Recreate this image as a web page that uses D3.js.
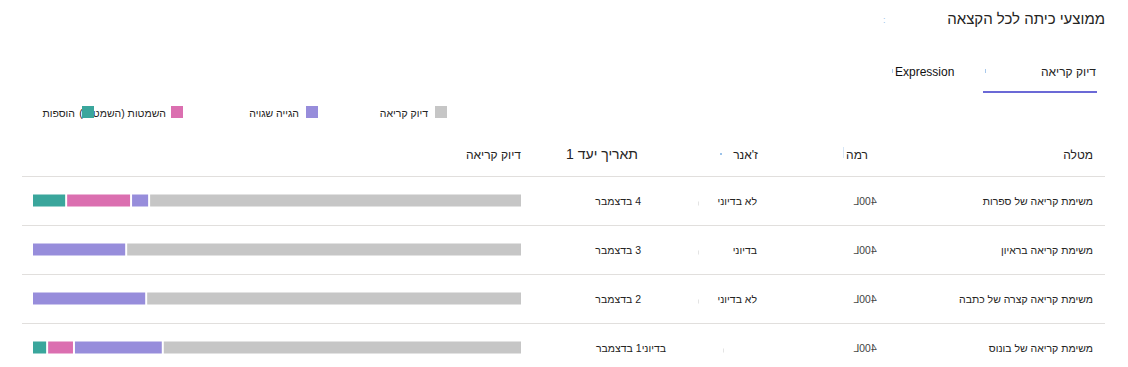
<!DOCTYPE html>
<html>
<head>
<meta charset="utf-8">
<script src="https://cdn.jsdelivr.net/npm/d3@7"></script>
<style>
  body { margin: 0; background: #fff; }
  svg text { font-family: "Liberation Sans", Arial, sans-serif; fill: #252423; }
</style>
</head>
<body>
<div id="chart"></div>
<script>
// data
var tasks = ["משימת קריאה של ספרות", "משימת קריאה בראיון", "משימת קריאה קצרה של כתבה", "משימת קריאה של בונוס"];
var levels = ["400L", "400L", "400L", "400L"];
var genres = ["לא בדיוני", "בדיוני", "לא בדיוני", ""];
var dates = ["4 בדצמבר", "3 בדצמבר", "2 בדצמבר", "בדיוני1 בדצמבר"];
var insertions = [7.0, 0, 0, 3.1];
var omissions = [13.3, 0, 0, 5.5];
var mispronunciations = [3.7, 19.3, 23.4, 18.2];
var accuracy = [76.0, 80.7, 76.6, 73.2];
var columns = ["מטלה", "רמה", "ז'אנר", "תאריך יעד 1", "דיוק קריאה"];
var legendLabels = ["דיוק קריאה", "הגייה שגויה", "השמטות (השמטות)", "הוספות"];

var keys = ["insertions", "omissions", "mispronunciations", "accuracy"];
var colors = {insertions: "#3aa69c", omissions: "#db6fb0", mispronunciations: "#978ddb", accuracy: "#c6c6c6"};

var rows = tasks.map(function(t, i) {
  return {task: t, level: levels[i], genre: genres[i], date: dates[i],
          insertions: insertions[i], omissions: omissions[i],
          mispronunciations: mispronunciations[i], accuracy: accuracy[i]};
});

var svg = d3.select("#chart").append("svg")
    .attr("width", 1128)
    .attr("height", 367);

// title
svg.append("text")
    .attr("x", 1105).attr("y", 24)
    .attr("direction", "rtl").attr("text-anchor", "start")
    .style("font-size", "15px")
    .text("ממוצעי כיתה לכל הקצאה");
svg.append("text")
    .attr("x", 883).attr("y", 23)
    .style("font-size", "9px").style("fill", "#9cc3ea")
    .text(":");

// tabs
svg.append("text")
    .attr("x", 1096).attr("y", 76)
    .attr("direction", "rtl").attr("text-anchor", "start")
    .style("font-size", "12px")
    .text("דיוק קריאה");
svg.append("text")
    .attr("x", 895).attr("y", 76)
    .style("font-size", "12px").style("fill", "#111")
    .text("Expression");
svg.append("rect")
    .attr("x", 983).attr("y", 91).attr("width", 114).attr("height", 2)
    .attr("fill", "#6b69d6");
// tiny focus marks next to the tabs
svg.selectAll(".tabmark")
    .data([892, 985])
    .enter().append("rect")
    .attr("class", "tabmark")
    .attr("x", function(d) { return d; }).attr("y", 69)
    .attr("width", 1).attr("height", 4)
    .attr("fill", "#a9c9ec");

// legend
var legendX = [447, 318, 183, 94];
var legend = svg.selectAll(".legend")
    .data(keys.slice().reverse())
    .enter().append("g")
    .attr("class", "legend")
    .attr("transform", function(d, i) { return "translate(" + legendX[i] + ",106)"; });
legend.append("text")
    .attr("x", function(d, i) { return i == 2 ? -17 : -19; }).attr("y", 11)
    .attr("direction", "rtl").attr("text-anchor", "start")
    .style("font-size", "10.5px")
    .text(function(d, i) { return legendLabels[i]; });
legend.append("rect")
    .attr("x", -12).attr("width", 12).attr("height", 12)
    .attr("fill", function(d) { return colors[d]; });

// columns
var colX = [1093, 868, 758, 638, 521];
svg.selectAll(".colhead")
    .data(columns)
    .enter().append("text")
    .attr("class", "colhead")
    .attr("x", function(d, i) { return colX[i]; })
    .attr("y", 159)
    .attr("direction", "rtl").attr("text-anchor", "start")
    .style("font-size", function(d, i) { return i == 3 ? "14px" : "12px"; })
    .text(function(d) { return d; });
svg.append("rect").attr("x", 843).attr("y", 147).attr("width", 1).attr("height", 11).attr("fill", "#d6e6f6");
svg.append("rect").attr("x", 720).attr("y", 153).attr("width", 2).attr("height", 2).attr("fill", "#9cc3ea");

// rows
var y = d3.scaleBand().domain(tasks).range([176, 372]);
var x = d3.scaleLinear().domain([0, 100]).range([33, 521]);
var gap = 2;

svg.selectAll(".sep")
    .data(tasks)
    .enter().append("line")
    .attr("class", "sep")
    .attr("x1", 22).attr("x2", 1105)
    .attr("y1", function(d) { return y(d) + 0.5; })
    .attr("y2", function(d) { return y(d) + 0.5; })
    .attr("stroke", "#e1dfdd");

var row = svg.selectAll(".row")
    .data(rows)
    .enter().append("g")
    .attr("class", "row")
    .attr("transform", function(d) { return "translate(0," + (y(d.task) + y.bandwidth() / 2) + ")"; });

row.append("text")
    .attr("x", 1093).attr("y", 4)
    .attr("direction", "rtl").attr("text-anchor", "start")
    .style("font-size", "10.5px")
    .text(function(d) { return d.task; });

// level is shown mirrored in the original
row.append("text")
    .attr("x", 865).attr("y", 4)
    .attr("text-anchor", "middle")
    .attr("transform", "translate(1730,0) scale(-1,1)")
    .style("font-size", "10.5px").style("fill", "#444")
    .text(function(d) { return d.level; });

row.append("text")
    .attr("x", 757).attr("y", 4)
    .attr("direction", "rtl").attr("text-anchor", "start")
    .style("font-size", "10.5px")
    .text(function(d) { return d.genre; });
row.append("rect")
    .attr("x", function(d) { return d.genre ? 698 : 723; }).attr("y", 1)
    .attr("width", 1).attr("height", 4)
    .attr("fill", "#e4e4e4");

row.append("text")
    .attr("x", function(d) { return d.genre ? 641 : 666; })
    .attr("y", 4)
    .attr("direction", "rtl").attr("text-anchor", "start")
    .style("font-size", "10.5px")
    .text(function(d) { return d.date; });

// stacked bars
var stack = d3.stack().keys(keys);
var series = stack(rows);

series.forEach(function(s) {
  svg.selectAll(".seg-" + s.key)
      .data(s.filter(function(d) { return d[1] - d[0] > 0; }))
      .enter().append("rect")
      .attr("class", "seg-" + s.key)
      .attr("x", function(d) { return x(d[0]); })
      .attr("y", function(d) { return y(d.data.task) + y.bandwidth() / 2 - 6; })
      .attr("width", function(d) { return x(d[1]) - x(d[0]) - (s.key == "accuracy" ? 0 : gap); })
      .attr("height", 12)
      .attr("fill", colors[s.key]);
});
</script>
</body>
</html>
